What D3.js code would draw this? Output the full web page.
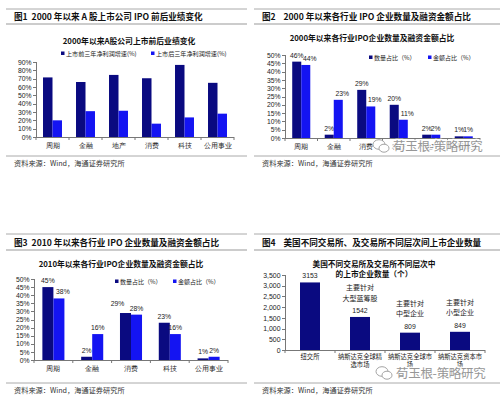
<!DOCTYPE html>
<html><head><meta charset="utf-8">
<script src="https://cdn.jsdelivr.net/npm/d3@7/dist/d3.min.js"></script>
<style>
body{margin:0;background:#fff;}
svg{display:block;font-family:"Noto Sans CJK SC","Liberation Sans",sans-serif;}
.num{font-family:"Liberation Sans",Arial,sans-serif;}
</style></head><body>
<svg id="c" width="502" height="399"></svg>
<script>
// ---------- DATA ----------
const p1Title = "图1  2000 年以来 A 股上市公司 IPO 前后业绩变化";
const p1ChartTitle = "2000年以来A股公司上市前后业绩变化";
const p1Categories = ["周期","金融","地产","消费","科技","公用事业"];
const p1SeriesNames = ["上市前三年净利润增速(%)","上市后三年净利润增速(%)"];
const p1Before = [71.5, 66, 74.5, 70.5, 86.5, 65];
const p1After  = [20, 31, 31.5, 16, 23.5, 28];
const p1Ticks  = [0,10,20,30,40,50,60,70,80,90];

const p2Title = "图2    2000 年以来各行业 IPO 企业数量及融资金额占比";
const p2ChartTitle = "2000年以来各行业IPO企业数量及融资金额占比";
const p2Categories = ["周期","金融","消费","科技","地产","公用事业"];
const p2SeriesNames = ["数量占比（%）","金额占比（%）"];
const p2Count  = [46, 2, 29, 20, 2, 1];
const p2Amount = [44, 23, 19, 11, 2, 1];
const p2Ticks  = [0,5,10,15,20,25,30,35,40,45,50];

const p3Title = "图3  2010 年以来各行业 IPO 企业数量及融资金额占比";
const p3ChartTitle = "2010年以来各行业IPO企业数量及融资金额占比";
const p3Categories = ["周期","金融","消费","科技","公用事业"];
const p3SeriesNames = ["数量占比（%）","金额占比（%）"];
const p3Count  = [45, 2, 29, 23, 1];
const p3Amount = [38, 16, 28, 16, 2];
const p3Ticks  = [0,5,10,15,20,25,30,35,40,45,50];

const p4Title = "图4    美国不同交易所、及交易所不同层次间上市企业数量";
const p4ChartTitle = ["美国不同交易所及交易所不同层次中","的上市企业数量（个）"];
const p4Categories = ["纽交所","纳斯达克全球精选市场","纳斯达克全球市场","纳斯达克资本市场"];
const p4Values = [3153, 1542, 809, 849];
const p4Notes = [[], ["主要针对","大型蓝筹股"], ["主要针对","中型企业"], ["主要针对","小型企业"]];
const p4Ticks = [0,500,1000,1500,2000,2500,3000,3500];

const sourceText = "资料来源：Wind，海通证券研究所";
const watermarkText = "荀玉根-策略研究";

// ---------- STYLE ----------
const DARK = "#0a0a80", BLUE = "#1414f2", AXIS = "#777";
const svg = d3.select("#c");

function text(g, x, y, s, o = {}) {
  return g.append("text").attr("x", x).attr("y", y).text(s)
    .attr("font-size", o.size || 7)
    .attr("font-weight", o.weight || "normal")
    .attr("text-anchor", o.anchor || "start")
    .attr("fill", o.fill || "#222")
    .attr("class", o.cls || null)
    .style("white-space", "pre");
}
function hline(x1, x2, y, w = 1, c = "#9a9a9a") {
  svg.append("line").attr("x1", x1).attr("x2", x2).attr("y1", y).attr("y2", y)
    .attr("stroke", c).attr("stroke-width", w);
}
function frame(xl, xr, yTop, yTitle, yBottom, title, titleY) {
  hline(xl, xr, yTop, 1, "#aaa");
  text(svg, xl + 8, titleY, title, {size: 8.6, weight: "bold", fill: "#111"});
  hline(xl, xr, yTitle, 1.2, "#999");
  hline(xl, xr, yBottom, 1, "#aaa");
  text(svg, xl + 8, yBottom + 9.5, sourceText, {size: 7.2, fill: "#333"});
}
function styleAxis(g, size) {
  g.selectAll("path,line").attr("stroke", AXIS).attr("shape-rendering", "crispEdges");
  g.selectAll("text").attr("font-size", size).attr("fill", "#222");
}

function grouped(o) {
  const g = svg.append("g");
  const x0 = d3.scaleBand().domain(o.cats).range([o.xl, o.xr]);
  const x1 = d3.scaleBand().domain([0, 1]).range([0, x0.bandwidth()]).paddingOuter(o.pad);
  const y = d3.scaleLinear().domain([0, o.ymax]).range([o.yb, o.yt]);
  const series = [o.a, o.b];
  const colors = [DARK, BLUE];

  const ya = g.append("g").attr("transform", `translate(${o.xl},0)`)
    .call(d3.axisLeft(y).tickValues(o.ticks).tickSize(3).tickPadding(1.5).tickFormat(d => d + "%"));
  ya.select(".domain").attr("d", `M0,${o.yb}V${o.yt}`);
  ya.selectAll("text").attr("class", "num");
  styleAxis(ya, 6.8);

  const xa = g.append("g").attr("transform", `translate(0,${o.yb})`)
    .call(d3.axisBottom(x0).tickSize(0).tickPadding(6));
  xa.select(".domain").attr("d", `M${o.xl},0H${o.xr}`);
  styleAxis(xa, 6.6);
  g.selectAll(".bt").data(d3.range(o.cats.length + 1)).join("line")
    .attr("x1", i => o.xl + i * x0.step()).attr("x2", i => o.xl + i * x0.step())
    .attr("y1", o.yb).attr("y2", o.yb + 3).attr("stroke", AXIS);

  series.forEach((vals, si) => {
    g.selectAll(null).data(vals).join("rect")
      .attr("x", (d, i) => x0(o.cats[i]) + x1(si))
      .attr("width", x1.bandwidth())
      .attr("y", d => y(d)).attr("height", d => o.yb - y(d))
      .attr("fill", colors[si]);
    if (o.labels) {
      g.selectAll(null).data(vals).join("text")
        .attr("class", "num")
        .attr("x", (d, i) => x0(o.cats[i]) + x1(si) + x1.bandwidth() / 2 + o.dx(si, i, d))
        .attr("y", (d, i) => y(d) - 4 + o.dy(si, i, d))
        .attr("text-anchor", "middle").attr("font-size", 6.8).attr("fill", "#222")
        .text(d => Math.round(d) + "%");
    }
  });

  text(svg, o.titleX, o.titleY, o.title, {size: 7.8, weight: "bold", anchor: "middle", fill: "#111"});
  o.legend.forEach((L, i) => {
    svg.append("rect").attr("x", L[0]).attr("y", o.legY - 3.5).attr("width", 3.5).attr("height", 3.5).attr("fill", colors[i]);
    text(svg, L[0] + 5, o.legY + 0.5, o.names[i], {size: o.legSize || 6.1, fill: "#222"});
  });
}

// ---------- PANEL 1 ----------
frame(6, 247, 9, 24, 156, p1Title, 19.5);
grouped({cats: p1Categories, a: p1Before, b: p1After, ymax: 90, ticks: p1Ticks,
  xl: 36, xr: 234, yb: 137, yt: 62, pad: 0.74, labels: false,
  title: p1ChartTitle, titleX: 129, titleY: 44, names: p1SeriesNames,
  legY: 55, legend: [[61], [151]], legSize: 6.1});

// ---------- PANEL 2 ----------
frame(254, 500, 9, 24, 156, p2Title, 19.5);
grouped({cats: p2Categories, a: p2Count, b: p2Amount, ymax: 50, ticks: p2Ticks,
  xl: 285, xr: 480, yb: 138, yt: 55, pad: 0.8, labels: true,
  dx: (si, i, d) => (si === 1 && d >= 10 ? 4 : 0), dy: () => 0,
  title: p2ChartTitle, titleX: 372, titleY: 40.5, names: p2SeriesNames,
  legY: 59, legend: [[369], [428]], legSize: 6});

// ---------- PANEL 3 ----------
frame(6, 247, 234, 250, 383, p3Title, 246);
grouped({cats: p3Categories, a: p3Count, b: p3Amount, ymax: 50, ticks: p3Ticks,
  xl: 34, xr: 228, yb: 360, yt: 279, pad: 0.76, labels: true,
  dx: (si, i) => (si === 0 && i === 2 ? -8 : (si === 1 && i === 0 ? 4 : 0)),
  dy: (si, i) => (si === 0 && i === 2 ? -3 : 0),
  title: p3ChartTitle, titleX: 121, titleY: 267, names: p3SeriesNames,
  legY: 283, legend: [[115], [173]], legSize: 6});

// ---------- PANEL 4 ----------
frame(254, 500, 234, 250, 383, p4Title, 246);
(function(){
  const g = svg.append("g");
  const xl = 285, xr = 485, yb = 350, yt = 275;
  const xs = d3.scaleBand().domain(p4Categories).range([xl, xr]);
  const y = d3.scaleLinear().domain([0, 3500]).range([yb, yt]);
  const ya = g.append("g").attr("transform", `translate(${xl},0)`)
    .call(d3.axisLeft(y).tickValues(p4Ticks).tickSize(3).tickPadding(1.5));
  ya.select(".domain").attr("d", `M0,${yb}V${yt}`);
  ya.selectAll("text").attr("class", "num");
  styleAxis(ya, 6.9);
  const xa = g.append("g").attr("transform", `translate(0,${yb})`)
    .call(d3.axisBottom(xs).tickSize(0).tickFormat(""));
  xa.select(".domain").attr("d", `M${xl},0H${xr}`);
  styleAxis(xa, 6.3);
  g.selectAll(".bt").data(d3.range(p4Categories.length + 1)).join("line")
    .attr("x1", i => xl + i * xs.step()).attr("x2", i => xl + i * xs.step())
    .attr("y1", yb).attr("y2", yb + 3).attr("stroke", AXIS);
  p4Categories.forEach(c => {
    const lines = c.length > 7 ? [c.slice(0, 7), c.slice(7)] : [c];
    lines.forEach((s, li) => text(g, xs(c) + xs.bandwidth() / 2, yb + 9 + li * 8, s, {size: 6.3, anchor: "middle"}));
  });
  const bw = 20;
  g.selectAll(null).data(p4Values).join("rect")
    .attr("x", (d, i) => xs(p4Categories[i]) + xs.bandwidth() / 2 - bw / 2)
    .attr("width", bw).attr("y", d => y(d)).attr("height", d => yb - y(d)).attr("fill", DARK);
  g.selectAll(null).data(p4Values).join("text").attr("class", "num")
    .attr("x", (d, i) => xs(p4Categories[i]) + xs.bandwidth() / 2)
    .attr("y", d => y(d) - 4).attr("text-anchor", "middle").attr("font-size", 6.9).attr("fill", "#222")
    .text(d => d);
  p4Notes.forEach((n, i) => {
    const cx = xs(p4Categories[i]) + xs.bandwidth() / 2;
    const top = y(p4Values[i]) - 4 - 6.9 - 3;
    n.forEach((s, li) => text(g, cx, top - (n.length - 1 - li) * 10.5 - 2.5, s, {size: 7, anchor: "middle", fill: "#222"}));
  });
  p4ChartTitle.forEach((s, i) => text(svg, 374, 267 + i * 10, s, {size: 7.7, weight: "bold", anchor: "middle", fill: "#111"}));
})();

// ---------- WATERMARKS ----------
function watermark(cx, cy) {
  const g = svg.append("g").attr("opacity", 0.9);
  g.append("ellipse").attr("cx", cx - 2).attr("cy", cy - 1.5).attr("rx", 6).attr("ry", 4.8)
    .attr("fill", "#fff").attr("stroke", "#9a9a9a").attr("stroke-width", 1);
  g.append("ellipse").attr("cx", cx + 3).attr("cy", cy + 2.2).attr("rx", 5).attr("ry", 4)
    .attr("fill", "#fff").attr("stroke", "#9a9a9a").attr("stroke-width", 1);
  g.append("text").attr("x", cx + 12).attr("y", cy + 4.5).text(watermarkText)
    .attr("font-size", 12.5).attr("fill", "#8c8c8c")
    .attr("stroke", "#fff").attr("stroke-width", 2.6).attr("paint-order", "stroke")
    .attr("letter-spacing", -0.3);
}
watermark(381, 146);
watermark(384, 373);
</script>
</body></html>
